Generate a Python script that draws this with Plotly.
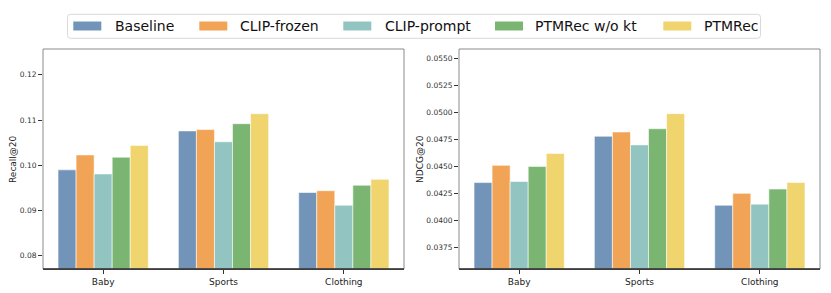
import plotly.graph_objects as go

categories = ["Baby", "Sports", "Clothing"]
series_names = ["Baseline", "CLIP-frozen", "CLIP-prompt", "PTMRec w/o kt", "PTMRec"]
recall = {
    "Baseline":      [0.0990, 0.1076, 0.0940],
    "CLIP-frozen":   [0.1023, 0.1079, 0.0944],
    "CLIP-prompt":   [0.0981, 0.1052, 0.0912],
    "PTMRec w/o kt": [0.1018, 0.1092, 0.0956],
    "PTMRec":        [0.1044, 0.1114, 0.0969],
}
ndcg = {
    "Baseline":      [0.0435, 0.0478, 0.0414],
    "CLIP-frozen":   [0.0451, 0.0482, 0.0425],
    "CLIP-prompt":   [0.0436, 0.0470, 0.0415],
    "PTMRec w/o kt": [0.0450, 0.0485, 0.0429],
    "PTMRec":        [0.0462, 0.0499, 0.0435],
}
recall_ticks = [0.08, 0.09, 0.10, 0.11, 0.12]
ndcg_ticks = [0.0375, 0.0400, 0.0425, 0.0450, 0.0475, 0.0500, 0.0525, 0.0550]

colors = ["#7294B9", "#F2A456", "#92C5C1", "#7BB572", "#F0D46E"]

# page body has an 8px default margin; compensate
OFF = 8
W, H = 831 - OFF, 293 - OFF
FONT = "DejaVu Sans"

fig = go.Figure()
for name, col in zip(series_names, colors):
    fig.add_trace(go.Bar(x=categories, y=recall[name], name=name, marker_color=col,
                         marker_line=dict(color="rgba(255,255,255,0.7)", width=0.8),
                         xaxis="x", yaxis="y", showlegend=False))
    fig.add_trace(go.Bar(x=categories, y=ndcg[name], name=name, marker_color=col,
                         marker_line=dict(color="rgba(255,255,255,0.7)", width=0.8),
                         xaxis="x2", yaxis="y2", showlegend=False))

def px_x(p):
    return (p - OFF) / W

def px_y(p):
    return 1 - (p - OFF) / H

ax_common = dict(showgrid=False, zeroline=False, ticks="outside", ticklen=4,
                 tickcolor="#333", tickwidth=1, showline=True, linecolor="#333",
                 linewidth=1.2, tickfont=dict(family=FONT, size=9, color="#222"))
ay_common = dict(showgrid=False, zeroline=False, ticks="outside", ticklen=4,
                 tickcolor="#333", tickwidth=1, showline=False,
                 tickfont=dict(family=FONT, size=7.5, color="#333"))

fig.update_layout(
    width=W, height=H,
    margin=dict(l=0, r=0, t=0, b=0),
    paper_bgcolor="white", plot_bgcolor="white",
    barmode="group", bargap=0.25, bargroupgap=0,
    font=dict(family=FONT),
    xaxis=dict(domain=[px_x(43), px_x(404)], anchor="y", range=[-0.5, 2.5], **ax_common),
    yaxis=dict(domain=[px_y(269), px_y(49)], anchor="x", range=[0.0771, 0.1257],
               tickvals=recall_ticks, tickformat=".2f", **ay_common),
    xaxis2=dict(domain=[px_x(459), px_x(820)], anchor="y2", range=[-0.5, 2.5], **ax_common),
    yaxis2=dict(domain=[px_y(269), px_y(49)], anchor="x2", range=[0.03548, 0.0559],
                tickvals=ndcg_ticks, tickformat=".4f", **ay_common),
)

shapes = []
for xr, yr in [("x domain", "y domain"), ("x2 domain", "y2 domain")]:
    shapes.append(dict(type="rect", xref=xr, yref=yr, x0=0, x1=1, y0=0, y1=1,
                       line=dict(color="#8a8a8a", width=1), layer="above"))
for xr, yr in [("x domain", "y domain"), ("x2 domain", "y2 domain")]:
    shapes.append(dict(type="line", xref=xr, yref=yr, x0=0, x1=1, y0=0, y1=0,
                       line=dict(color="#333", width=1.3), layer="above"))

lx0, lx1, ly0, ly1, r = 67.5, 760.5, 14.3, 38.3, 3
path = (f"M {px_x(lx0+r)},{px_y(ly0)} L {px_x(lx1-r)},{px_y(ly0)} "
        f"Q {px_x(lx1)},{px_y(ly0)} {px_x(lx1)},{px_y(ly0+r)} "
        f"L {px_x(lx1)},{px_y(ly1-r)} Q {px_x(lx1)},{px_y(ly1)} {px_x(lx1-r)},{px_y(ly1)} "
        f"L {px_x(lx0+r)},{px_y(ly1)} Q {px_x(lx0)},{px_y(ly1)} {px_x(lx0)},{px_y(ly1-r)} "
        f"L {px_x(lx0)},{px_y(ly0+r)} Q {px_x(lx0)},{px_y(ly0)} {px_x(lx0+r)},{px_y(ly0)} Z")
shapes.append(dict(type="path", xref="paper", yref="paper", path=path,
                   line=dict(color="#d9d9d9", width=1), fillcolor="rgba(255,255,255,0.8)"))

patch_x = [73.3, 199.3, 343.3, 495.0, 663.3]
text_x = [112.5, 238.3, 382.5, 533.0, 702.0]
annotations = []
for name, col, pxp, tx in zip(series_names, colors, patch_x, text_x):
    shapes.append(dict(type="rect", xref="paper", yref="paper",
                       x0=px_x(pxp), x1=px_x(pxp + 28), y0=px_y(30.5), y1=px_y(21.5),
                       fillcolor=col, line=dict(width=0)))
    annotations.append(dict(x=px_x(tx), y=px_y(26.5), xref="paper", yref="paper",
                            text=name, showarrow=False, xanchor="left", yanchor="middle",
                            font=dict(family=FONT, size=14, color="#111")))

annotations.append(dict(x=px_x(13), y=px_y(159), xref="paper", yref="paper",
                        text="Recall@20", textangle=-90, showarrow=False,
                        xanchor="center", yanchor="middle",
                        font=dict(family=FONT, size=9, color="#222")))
annotations.append(dict(x=px_x(420), y=px_y(159), xref="paper", yref="paper",
                        text="NDCG@20", textangle=-90, showarrow=False,
                        xanchor="center", yanchor="middle",
                        font=dict(family=FONT, size=9, color="#222")))

fig.update_layout(shapes=shapes, annotations=annotations)
fig.write_html("out.html")
